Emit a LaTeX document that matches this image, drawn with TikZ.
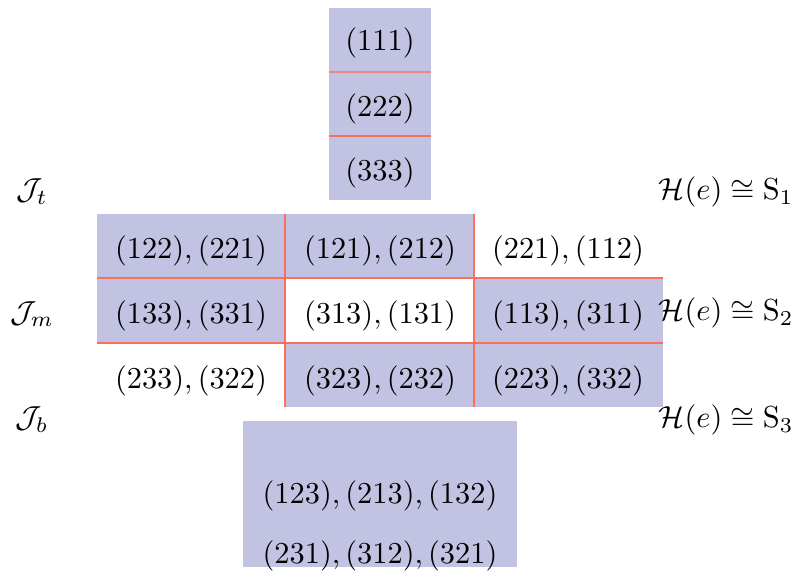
\documentclass[tikz,border=0pt]{standalone}
\usepackage{amsmath,amssymb}
\definecolor{cellfill}{RGB}{194,194,227}
\definecolor{gridline}{RGB}{250,112,92}
\begin{document}
\begin{tikzpicture}[x=0.329pt,y=-0.329pt,
  gl/.style={draw=gridline, line width=0.4pt},
  cellbox/.style={fill=cellfill},
  txt/.style={anchor=base, inner sep=0pt},
  lbl/.style={anchor=base west, inner sep=0pt}]
\useasboundingbox (0,0) rectangle (797,577);
% top stack
\fill[cellbox] (329,8) rectangle (431,200);
\draw[gl, draw opacity=0.7] (329,72) -- (431,72);
\draw[gl] (329,136) -- (431,136);
\node[txt] (t1) at (380,51) {$(111)$};
\node[txt] (t2) at (380,117) {$(222)$};
\node[txt] (t3) at (380,181) {$(333)$};
% grid fills
\fill[cellbox] (97,214) rectangle (474,278);
\fill[cellbox] (97,278) rectangle (285,343);
\fill[cellbox] (474,278) rectangle (663,407);
\fill[cellbox] (285,343) rectangle (474,407);
% grid lines
\draw[gl] (97,278) -- (663,278);
\draw[gl] (97,343) -- (663,343);
\draw[gl] (285,214) -- (285,407);
\draw[gl] (474,214) -- (474,407);
% grid texts
\node[txt] (g11) at (191,258) {$(122),(221)$};
\node[txt] (g12) at (380,258) {$(121),(212)$};
\node[txt] (g13) at (568,258) {$(221),(112)$};
\node[txt] (g21) at (191,323) {$(133),(331)$};
\node[txt] (g22) at (380,323) {$(313),(131)$};
\node[txt] (g23) at (568,323) {$(113),(311)$};
\node[txt] (g31) at (191,388) {$(233),(322)$};
\node[txt] (g32) at (380,388) {$(323),(232)$};
\node[txt] (g33) at (568,388) {$(223),(332)$};
% bottom box
\fill[cellbox] (243,421) rectangle (517,567);
\node[txt] (b1) at (380,503) {$(123),(213),(132)$};
\node[txt] (b2) at (380,563) {$(231),(312),(321)$};
% left labels
\node[txt] (jt) at (32,200) {$\mathcal{J}_t$};
\node[txt] (jm) at (32,322) {$\mathcal{J}_m$};
\node[txt] (jb) at (32,428) {$\mathcal{J}_b$};
% right labels
\node[lbl] (h1) at (658,200) {$\mathcal{H}(e)\cong\mathrm{S}_1$};
\node[lbl] (h2) at (658,321) {$\mathcal{H}(e)\cong\mathrm{S}_2$};
\node[lbl] (h3) at (658,428) {$\mathcal{H}(e)\cong\mathrm{S}_3$};
\end{tikzpicture}
\end{document}
